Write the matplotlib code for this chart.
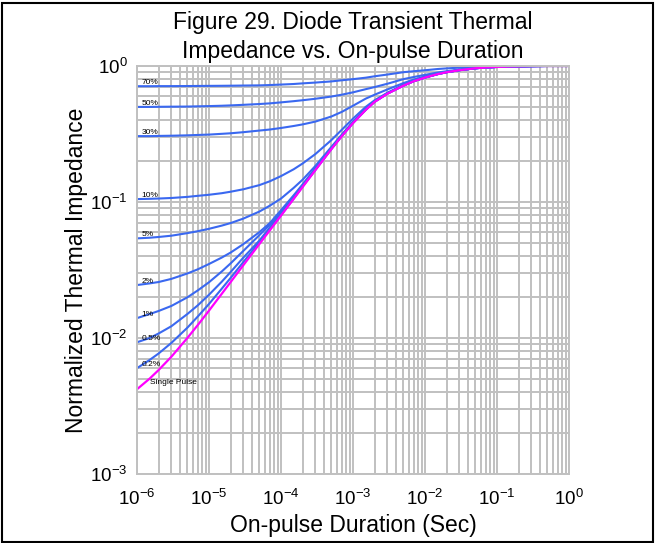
import matplotlib
matplotlib.use("Agg")
import matplotlib.pyplot as plt
from matplotlib.patches import Rectangle

plt.rcParams['font.family'] = ['Liberation Sans', 'DejaVu Sans']
plt.rcParams['mathtext.fontset'] = 'custom'
plt.rcParams['mathtext.rm'] = 'Liberation Sans'
plt.rcParams['axes.unicode_minus'] = False

# pulse duration (s): 1, 1.5, 2, 3, 5, 7 per decade
t = [1e-6, 1.5e-6, 2e-6, 3e-6, 5e-6, 7e-6,
     1e-5, 1.5e-5, 2e-5, 3e-5, 5e-5, 7e-5,
     1e-4, 1.5e-4, 2e-4, 3e-4, 5e-4, 7e-4,
     1e-3, 1.5e-3, 2e-3, 3e-3, 5e-3, 7e-3,
     1e-2, 1.5e-2, 2e-2, 3e-2, 5e-2, 7e-2,
     1e-1, 1.5e-1, 2e-1, 3e-1, 5e-1, 7e-1, 1.0]

# normalized thermal impedance
z_70 = [0.71, 0.71, 0.711, 0.711, 0.712, 0.713,
        0.714, 0.715, 0.716, 0.718, 0.72, 0.724,
        0.73, 0.737, 0.745, 0.755, 0.77, 0.785,
        0.80, 0.82, 0.84, 0.865, 0.90, 0.915,
        0.93, 0.95, 0.96, 0.972, 0.98, 0.986,
        0.99, 0.993, 0.995, 0.998, 1.0, 1.0, 1.0]
z_50 = [0.50, 0.50, 0.501, 0.502, 0.503, 0.505,
        0.507, 0.51, 0.513, 0.518, 0.525, 0.531,
        0.54, 0.551, 0.56, 0.574, 0.596, 0.615,
        0.64, 0.675, 0.70, 0.74, 0.80, 0.83,
        0.86, 0.895, 0.915, 0.94, 0.966, 0.978,
        0.986, 0.991, 0.994, 0.998, 1.0, 1.0, 1.0]
z_30 = [0.305, 0.305, 0.306, 0.307, 0.309, 0.311,
        0.313, 0.317, 0.320, 0.326, 0.335, 0.341,
        0.35, 0.362, 0.372, 0.39, 0.425, 0.46,
        0.51, 0.575, 0.615, 0.672, 0.748, 0.795,
        0.835, 0.88, 0.905, 0.935, 0.964, 0.977,
        0.985, 0.991, 0.994, 0.998, 1.0, 1.0, 1.0]
z_10 = [0.105, 0.1055, 0.106, 0.107, 0.109, 0.111,
        0.113, 0.116, 0.119, 0.124, 0.133, 0.142,
        0.155, 0.174, 0.192, 0.225, 0.285, 0.34,
        0.41, 0.50, 0.56, 0.635, 0.724, 0.779,
        0.827, 0.874, 0.902, 0.933, 0.963, 0.976,
        0.984, 0.991, 0.994, 0.998, 1.0, 1.0, 1.0]
z_5 = [0.054, 0.0546, 0.0553, 0.0565, 0.059, 0.061,
       0.0635, 0.067, 0.070, 0.0755, 0.085, 0.094,
       0.106, 0.127, 0.146, 0.184, 0.254, 0.313,
       0.388, 0.482, 0.551, 0.630, 0.720, 0.776,
       0.825, 0.873, 0.901, 0.932, 0.962, 0.975,
       0.984, 0.991, 0.994, 0.998, 1.0, 1.0, 1.0]
z_2 = [0.0245, 0.0252, 0.0258, 0.0272, 0.0298, 0.0320,
       0.0350, 0.0390, 0.0425, 0.0490, 0.0600, 0.0700,
       0.0870, 0.112, 0.135, 0.177, 0.249, 0.310,
       0.385, 0.479, 0.549, 0.628, 0.719, 0.775,
       0.824, 0.872, 0.901, 0.932, 0.962, 0.975,
       0.984, 0.991, 0.994, 0.998, 1.0, 1.0, 1.0]
z_1 = [0.0140, 0.0150, 0.0158, 0.0172, 0.0199, 0.0224,
       0.0257, 0.0308, 0.0354, 0.0437, 0.057, 0.068,
       0.084, 0.109, 0.133, 0.175, 0.248, 0.309,
       0.384, 0.478, 0.548, 0.628, 0.719, 0.775,
       0.824, 0.872, 0.901, 0.932, 0.962, 0.975,
       0.984, 0.991, 0.994, 0.998, 1.0, 1.0, 1.0]
z_05 = [0.0093, 0.0100, 0.0108, 0.0122, 0.0150, 0.0174,
        0.0208, 0.0259, 0.0306, 0.039, 0.052, 0.065,
        0.0815, 0.107, 0.131, 0.173, 0.246, 0.307,
        0.382, 0.477, 0.547, 0.627, 0.718, 0.774,
        0.823, 0.872, 0.900, 0.931, 0.962, 0.975,
        0.984, 0.991, 0.994, 0.998, 1.0, 1.0, 1.0]
z_02 = [0.0060, 0.0069, 0.0077, 0.0092, 0.0119, 0.0144,
        0.0178, 0.0230, 0.0277, 0.0362, 0.0505, 0.0632,
        0.080, 0.106, 0.130, 0.172, 0.245, 0.306,
        0.381, 0.476, 0.546, 0.626, 0.717, 0.774,
        0.822, 0.871, 0.900, 0.931, 0.962, 0.975,
        0.984, 0.991, 0.994, 0.998, 1.0, 1.0, 1.0]
z_single = [0.0042, 0.00503, 0.00582, 0.00728, 0.0100, 0.01247,
            0.0159, 0.0211, 0.0258, 0.0343, 0.049, 0.0619,
            0.0794, 0.1054, 0.129, 0.1714, 0.2443, 0.305,
            0.380, 0.475, 0.545, 0.625, 0.716, 0.773,
            0.822, 0.871, 0.900, 0.931, 0.962, 0.975,
            0.984, 0.991, 0.994, 0.998, 1.0, 1.0, 1.0]

duty_labels = ['70%', '50%', '30%', '10%', '5%', '2%', '1%', '0.5%', '0.2%']
duty_curves = [z_70, z_50, z_30, z_10, z_5, z_2, z_1, z_05, z_02]

fig = plt.figure(figsize=(6.55, 5.43), dpi=100)
ax = fig.add_axes([0.2092, 0.1271, 0.6595, 0.7514])

ax.set_xscale('log')
ax.set_yscale('log')
ax.set_xlim(1e-6, 1)
ax.set_ylim(1e-3, 1)

ax.grid(True, which='both', color='#c0c0c0', linewidth=1.4)
ax.set_axisbelow(True)
for s in ax.spines.values():
    s.set_color('#c0c0c0')
    s.set_linewidth(1.4)
ax.tick_params(which='both', length=0, labelsize=13.5)
ax.tick_params(axis='x', pad=11)
ax.tick_params(axis='y', pad=7)

blue = '#3a68f0'
for lab, z in zip(duty_labels, duty_curves):
    ax.plot(t, z, color=blue, linewidth=1.5)
    ax.text(1.15e-6, z[0], lab, fontsize=6, va='bottom', ha='left')
ax.plot(t, z_single, color='#ff00ff', linewidth=1.6)
ax.text(1.5e-6, 0.0047, 'Single Pulse', fontsize=6, va='center', ha='left')

ax.set_xlabel('On-pulse Duration (Sec)', fontsize=16.5, labelpad=3)
ax.set_ylabel('Normalized Thermal Impedance', fontsize=16.5, labelpad=1)
ax.set_title('Figure 29. Diode Transient Thermal\nImpedance vs. On-pulse Duration',
             fontsize=16.5, pad=6, linespacing=1.3)

fig.patches.append(Rectangle((0.003, 0.002), 0.994, 0.992, transform=fig.transFigure,
                             fill=False, edgecolor='black', linewidth=1.5))

fig.savefig('out.png', dpi=100)
